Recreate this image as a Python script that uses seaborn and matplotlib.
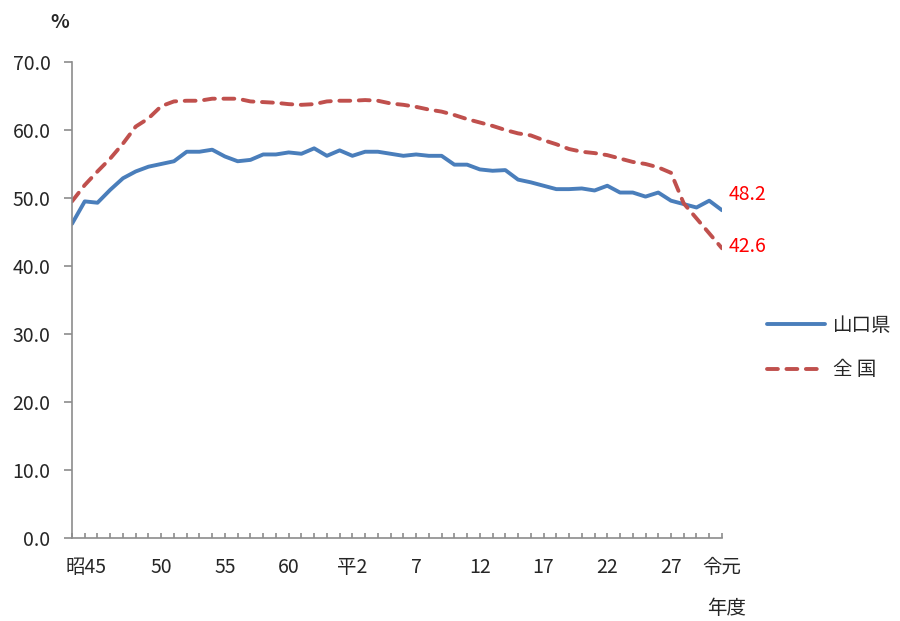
import numpy as np
import pandas as pd
import seaborn as sns
import matplotlib.pyplot as plt
import matplotlib.transforms as mtransforms
from matplotlib.lines import Line2D

# data (fiscal years 1968 .. 2019)
years = list(range(1968, 2020))
yamaguchi = [46.2, 49.5, 49.3, 51.2, 52.9, 53.9, 54.6, 55.0, 55.4, 56.8,
             56.8, 57.1, 56.1, 55.4, 55.6, 56.4, 56.4, 56.7, 56.5, 57.3,
             56.2, 57.0, 56.2, 56.8, 56.8, 56.5, 56.2, 56.4, 56.2, 56.2,
             54.9, 54.9, 54.2, 54.0, 54.1, 52.7, 52.3, 51.8, 51.3, 51.3,
             51.4, 51.1, 51.8, 50.8, 50.8, 50.2, 50.8, 49.6, 49.1, 48.6,
             49.6, 48.2]
zenkoku = [49.5, 51.9, 53.9, 55.8, 58.0, 60.5, 61.7, 63.5, 64.2, 64.3,
           64.3, 64.6, 64.6, 64.6, 64.2, 64.1, 64.0, 63.8, 63.7, 63.8,
           64.2, 64.3, 64.3, 64.4, 64.3, 63.9, 63.7, 63.4, 63.0, 62.7,
           62.2, 61.6, 61.1, 60.6, 60.0, 59.5, 59.2, 58.5, 57.9, 57.2,
           56.8, 56.6, 56.3, 55.8, 55.3, 55.0, 54.5, 53.7, 49.2, 47.0,
           44.8, 42.6]
label_years = [1970, 1975, 1980, 1985, 1990, 1995, 2000, 2005, 2010, 2015, 2019]
label_text = ['昭45', '50', '55', '60', '平2', '7', '12', '17', '22', '27', '令元']
series_names = ['山口県', '全 国']
colors = ['#4a7ebb', '#c0504d']

sns.set_style('white')
plt.rcParams['font.family'] = ['Noto Sans CJK JP', 'DejaVu Sans']
fs = 14

df = pd.DataFrame({'year': years * 2,
                   'value': yamaguchi + zenkoku,
                   'series': [series_names[0]] * len(years) + [series_names[1]] * len(years)})

fig = plt.figure(figsize=(9, 6.21), dpi=100)
ax = fig.add_axes([0.08, 0.1337, 0.7222, 0.7665])

sns.lineplot(data=df, x='year', y='value', hue='series', palette=colors,
             linewidth=2.8, legend=False, ax=ax)
ax.lines[0].set_solid_capstyle('round')
ax.lines[1].set_dashes((2.8, 2.2))
ax.lines[1].set_dash_capstyle('round')

ax.set_xlim(1968, 2019)
ax.set_ylim(0, 70)
ax.set_yticks(np.arange(0, 71, 10))
ax.set_yticklabels([f'{v:.1f}' for v in np.arange(0, 71, 10)])
ax.set_xticks(years)
ax.set_xticklabels([label_text[label_years.index(y)] if y in label_years else '' for y in years])
ax.set_xlabel('')
ax.set_ylabel('')

for s in ['top', 'right']:
    ax.spines[s].set_visible(False)
for s in ['left', 'bottom']:
    ax.spines[s].set_color('#8c8c8c')
    ax.spines[s].set_linewidth(1.2)

ax.tick_params(axis='y', direction='out', length=5.5, width=1.2, color='#8c8c8c',
               labelsize=fs, pad=10, left=True)
ax.tick_params(axis='x', direction='in', length=3.6, width=1.2, color='#8c8c8c',
               labelsize=fs, pad=14, bottom=True)

# first label sits a bit left of its tick in the reference
first = ax.get_xticklabels()[years.index(1970)]
first.set_transform(first.get_transform() + mtransforms.ScaledTranslation(-0.11, 0, fig.dpi_scale_trans))

fig.text(60 / 900, 1 - 22 / 621, '%', ha='center', va='center', fontsize=fs, fontweight='bold')
fig.text(727 / 900, 1 - 608 / 621, '年度', ha='center', va='center', fontsize=fs)

ax.annotate(f'{yamaguchi[-1]:.1f}', (years[-1], yamaguchi[-1]), xytext=(26, 16),
            textcoords='offset pixels', color='red', fontsize=fs, ha='center', va='center')
ax.annotate(f'{zenkoku[-1]:.1f}', (years[-1], zenkoku[-1]), xytext=(26, 2),
            textcoords='offset pixels', color='red', fontsize=fs, ha='center', va='center')

handles = [Line2D([], [], color=colors[0], linewidth=2.8, solid_capstyle='round'),
           Line2D([], [], color=colors[1], linewidth=2.8, dashes=(2.8, 2.2), dash_capstyle='round')]
fig.legend(handles, series_names, loc='center left', bbox_to_anchor=(0.852, 0.44),
           frameon=False, fontsize=fs, handlelength=3.0, handletextpad=0.4,
           labelspacing=1.2, borderpad=0, borderaxespad=0)

plt.savefig('out.png', dpi=100)
